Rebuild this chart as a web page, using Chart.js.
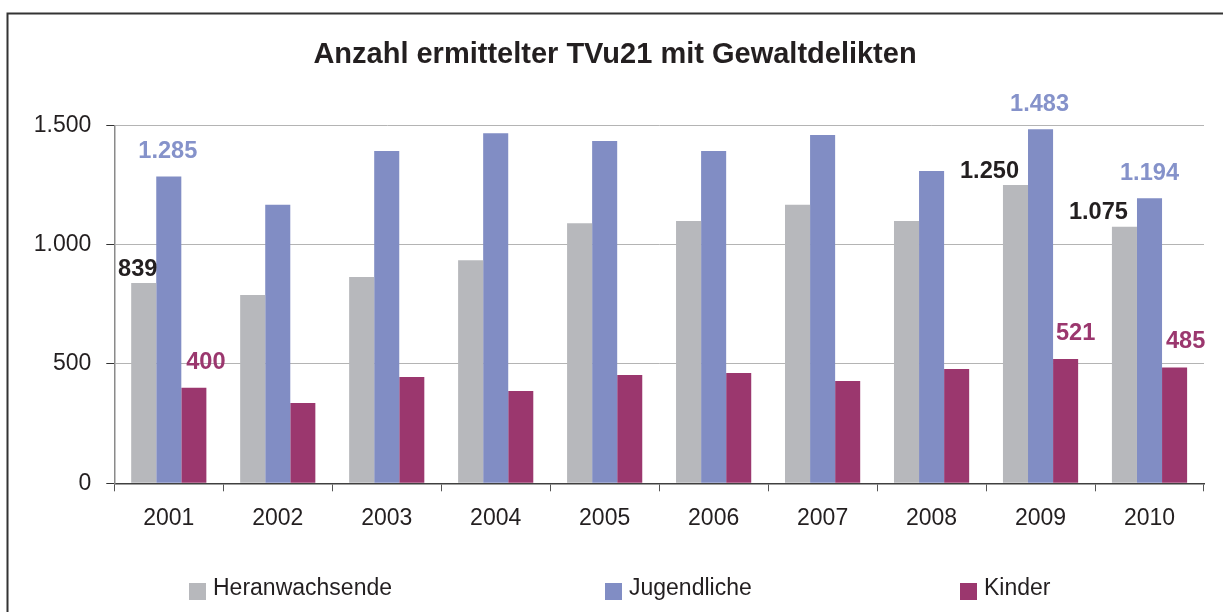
<!DOCTYPE html>
<html>
<head>
<meta charset="utf-8">
<script src="https://cdn.jsdelivr.net/npm/chart.js@4"></script>
<style>
  html, body { margin: 0; padding: 0; background: #ffffff; }
  canvas { display: block; }
</style>
</head>
<body>
<canvas id="c" width="1223" height="612"></canvas>
<script>
// ---- data ----
const categories = ['2001','2002','2003','2004','2005','2006','2007','2008','2009','2010'];
const heranwachsende = [839, 789, 864, 935, 1090, 1099, 1167, 1099, 1250, 1075];
const jugendliche    = [1285, 1167, 1392, 1467, 1434, 1392, 1459, 1308, 1483, 1194];
const kinder         = [400, 336, 445, 387, 454, 462, 429, 479, 521, 485];
const seriesNames    = ['Heranwachsende', 'Jugendliche', 'Kinder'];
const yTicks         = [0, 500, 1000, 1500];
const labelledIndices = [0, 8, 9];   // years whose values are printed

// ---- styles ----
const FONT = '"Liberation Sans", Arial, Helvetica, sans-serif';
const TEXT = '#231f20';
const colors = ['#b7b8bc', '#818dc4', '#9b376e'];
const labelColors = ['#231f20', '#8592ca', '#9b376e'];
// per series: [dx, dy] of the value label (centre of caps) relative to bar top centre
const labelOffsets = [
  { 0: [-6, -15], 8: [-26, -15], 9: [-26, -16] },
  { 0: [-1, -27], 8: [-1, -27], 9: [0, -27] },
  { 0: [12, -27], 8: [10, -27], 9: [11, -28] }
];

function fmt(v) { return String(v).replace(/\B(?=(\d{3})+(?!\d))/g, '.'); }

const framePlugin = {
  id: 'frame',
  beforeDraw(chart) {
    const ctx = chart.ctx;
    ctx.save();
    ctx.fillStyle = '#fff';
    ctx.fillRect(0, 0, chart.width, chart.height);
    ctx.strokeStyle = '#333333';
    ctx.lineWidth = 2;
    ctx.beginPath();
    ctx.moveTo(7.5, 612);
    ctx.lineTo(7.5, 13.5);
    ctx.lineTo(1223, 13.5);
    ctx.stroke();
    ctx.restore();
  }
};

const valueLabelPlugin = {
  id: 'valueLabels',
  afterDatasetsDraw(chart) {
    const ctx = chart.ctx;
    ctx.save();
    ctx.font = 'bold 23.6px ' + FONT;
    ctx.textAlign = 'center';
    ctx.textBaseline = 'alphabetic';
    chart.data.datasets.forEach((ds, di) => {
      const meta = chart.getDatasetMeta(di);
      labelledIndices.forEach(i => {
        const bar = meta.data[i];
        const off = labelOffsets[di][i] || [0, -20];
        ctx.fillStyle = labelColors[di];
        ctx.fillText(fmt(ds.data[i]), bar.x + off[0], bar.y + off[1] + 8.4);
      });
    });
    ctx.restore();
  }
};

const legendPlugin = {
  id: 'customLegend',
  afterDraw(chart) {
    const ctx = chart.ctx;
    ctx.save();
    ctx.font = '23px ' + FONT;
    ctx.textBaseline = 'alphabetic';
    ctx.textAlign = 'left';
    const starts = [189, 605, 960];
    chart.data.datasets.forEach((ds, di) => {
      const x = starts[di];
      ctx.fillStyle = ds.backgroundColor;
      ctx.fillRect(x, 583, 17, 17);
      ctx.fillStyle = TEXT;
      ctx.fillText(ds.label, x + 24, 595);
    });
    ctx.restore();
  }
};

new Chart(document.getElementById('c'), {
  type: 'bar',
  data: {
    labels: categories,
    datasets: [
      { label: seriesNames[0], data: heranwachsende, backgroundColor: colors[0] },
      { label: seriesNames[1], data: jugendliche, backgroundColor: colors[1] },
      { label: seriesNames[2], data: kinder, backgroundColor: colors[2] }
    ]
  },
  options: {
    responsive: false,
    animation: false,
    devicePixelRatio: 1,
    datasets: { bar: { categoryPercentage: 0.69, barPercentage: 1.0, borderWidth: 0 } },
    layout: { padding: { left: 26, right: 19, top: 14, bottom: 68.7 } },
    plugins: {
      legend: { display: false },
      tooltip: { enabled: false },
      title: {
        display: true,
        text: 'Anzahl ermittelter TVu21 mit Gewaltdelikten',
        color: TEXT,
        font: { family: FONT, size: 29, weight: 'bold', lineHeight: 1.2 },
        padding: { top: 24, bottom: 52.5 }
      }
    },
    scales: {
      x: {
        ticks: { color: TEXT, font: { family: FONT, size: 23 }, padding: 14, maxRotation: 0, autoSkip: false },
        grid: { display: true, drawOnChartArea: false, drawTicks: true, tickLength: 8, tickColor: '#555555', offset: true },
        border: { display: true, color: '#404040', width: 1.5 },
        afterFit(s) { s.height = 60; }
      },
      y: {
        min: 0, max: 1500,
        afterBuildTicks(s) { s.ticks = yTicks.map(v => ({ value: v })); },
        ticks: { color: TEXT, font: { family: FONT, size: 23 }, padding: 15, callback: v => fmt(v) },
        grid: { color: '#b4b4b4', lineWidth: 1, drawTicks: true, tickLength: 8, tickColor: '#333333' },
        border: { display: true, color: '#8a8a8a', width: 1.5 },
        afterFit(s) { s.width = 88.3; }
      }
    }
  },
  plugins: [framePlugin, valueLabelPlugin, legendPlugin]
});
</script>
</body>
</html>
